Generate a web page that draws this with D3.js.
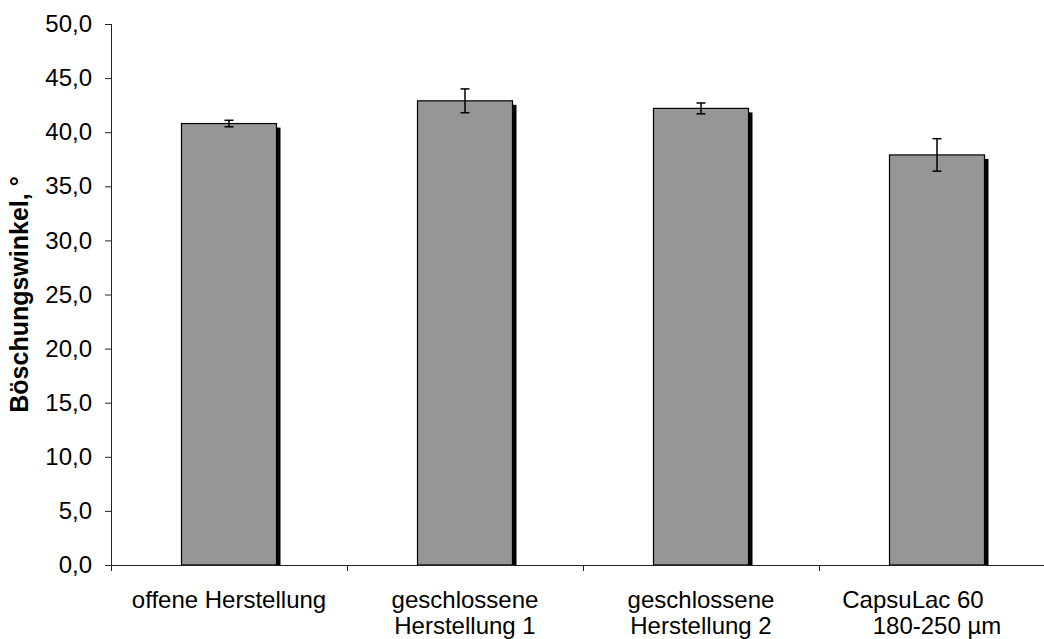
<!DOCTYPE html>
<html>
<head>
<meta charset="utf-8">
<script src="https://cdn.jsdelivr.net/npm/d3@7"></script>
<style>
  html, body { margin: 0; padding: 0; background: #fff; }
  svg { display: block; }
  text { font-family: "Liberation Sans", Arial, sans-serif; fill: #000; }
</style>
</head>
<body>
<svg id="chart" width="1044" height="639"></svg>
<script>
// ---- data ----
const categories = ["offene Herstellung", "geschlossene Herstellung 1", "geschlossene Herstellung 2", "CapsuLac 60 180-250 µm"];
const categoryLines = [["offene Herstellung"], ["geschlossene", "Herstellung 1"], ["geschlossene", "Herstellung 2"], ["CapsuLac 60", "180-250 µm"]];
const values = [40.8, 42.9, 42.2, 37.9];
const errors = [0.3, 1.1, 0.5, 1.5];
const yTicks = [0, 5, 10, 15, 20, 25, 30, 35, 40, 45, 50];
const yTitle = "Böschungswinkel, °";

// ---- layout ----
const plotLeft = 111, plotTop = 24, plotBottom = 565, plotRight = 1055;
const svg = d3.select("#chart");

const locale = d3.formatLocale({ decimal: ",", thousands: ".", grouping: [3], currency: ["", " €"] });
const fmt = locale.format(".1f");

const y = d3.scaleLinear().domain([0, 50]).range([plotBottom, plotTop]);
const pInner = 1 - 95 / 236;
const x = d3.scaleBand().domain(categories).range([plotLeft, plotRight])
  .paddingInner(pInner).paddingOuter(pInner / 2);
const step = x.step();

const axisColor = "#222";

const g = svg.append("g");
const rows = categories.map((c, i) => ({ c, v: values[i], e: errors[i], lines: categoryLines[i] }));

// shadows
g.selectAll("rect.shadow").data(rows).enter().append("rect")
  .attr("class", "shadow")
  .attr("x", d => x(d.c) + 4)
  .attr("y", d => y(d.v) + 4)
  .attr("width", x.bandwidth())
  .attr("height", d => plotBottom - y(d.v) - 4)
  .attr("fill", "#000");

// bars
g.selectAll("rect.bar").data(rows).enter().append("rect")
  .attr("class", "bar")
  .attr("x", d => x(d.c))
  .attr("y", d => y(d.v))
  .attr("width", x.bandwidth())
  .attr("height", d => plotBottom - y(d.v))
  .attr("fill", "#969696")
  .attr("stroke", "#000")
  .attr("stroke-width", 1.2);

// error bars
const eg = g.selectAll("g.err").data(rows).enter().append("g").attr("class", "err");
eg.append("line")
  .attr("x1", d => x(d.c) + x.bandwidth() / 2)
  .attr("x2", d => x(d.c) + x.bandwidth() / 2)
  .attr("y1", d => y(d.v + d.e))
  .attr("y2", d => y(d.v - d.e))
  .attr("stroke", "#000").attr("stroke-width", 1.5);
[1, -1].forEach(s => {
  eg.append("line")
    .attr("x1", d => x(d.c) + x.bandwidth() / 2 - 4.5)
    .attr("x2", d => x(d.c) + x.bandwidth() / 2 + 4.5)
    .attr("y1", d => y(d.v + s * d.e))
    .attr("y2", d => y(d.v + s * d.e))
    .attr("stroke", "#000").attr("stroke-width", 1.5);
});

// y axis
const yAxis = d3.axisLeft(y).tickValues(yTicks).tickFormat(fmt).tickSize(6).tickSizeOuter(0).tickPadding(13);
const ya = svg.append("g").attr("transform", `translate(${plotLeft},0)`).call(yAxis);
ya.select(".domain").attr("stroke", axisColor).attr("d", `M0.5,${plotTop}V${plotBottom + 6}`);
ya.selectAll(".tick line").attr("stroke", axisColor);
ya.selectAll(".tick text").attr("font-size", 24).attr("font-family", "Liberation Sans, Arial, sans-serif").attr("fill", "#000");

// x axis
const xa = svg.append("g");
xa.append("line").attr("x1", plotLeft).attr("x2", plotRight).attr("y1", plotBottom + 0.5).attr("y2", plotBottom + 0.5)
  .attr("stroke", axisColor);
const boundaries = d3.range(categories.length + 1).map(i => plotLeft + i * step);
xa.selectAll("line.tick").data(boundaries.slice(1)).enter().append("line")
  .attr("x1", d => Math.round(d) + 0.5).attr("x2", d => Math.round(d) + 0.5)
  .attr("y1", plotBottom).attr("y2", plotBottom + 6).attr("stroke", axisColor);

// category labels
const lineShift = [[0], [0, 0], [0, 0], [-24, 0]];
const lg = svg.append("g");
rows.forEach((d, i) => {
  const cx = x(d.c) + x.bandwidth() / 2;
  const t = lg.append("text").attr("text-anchor", "middle").attr("font-size", 24);
  d.lines.forEach((ln, j) => {
    t.append("tspan").attr("x", cx + lineShift[i][j]).attr("y", 608 + j * 26).text(ln);
  });
});

// y title
svg.append("text")
  .attr("transform", `translate(28,${(plotTop + plotBottom) / 2}) rotate(-90)`)
  .attr("text-anchor", "middle")
  .attr("font-size", 25)
  .attr("font-weight", "bold")
  .text(yTitle);
</script>
</body>
</html>
